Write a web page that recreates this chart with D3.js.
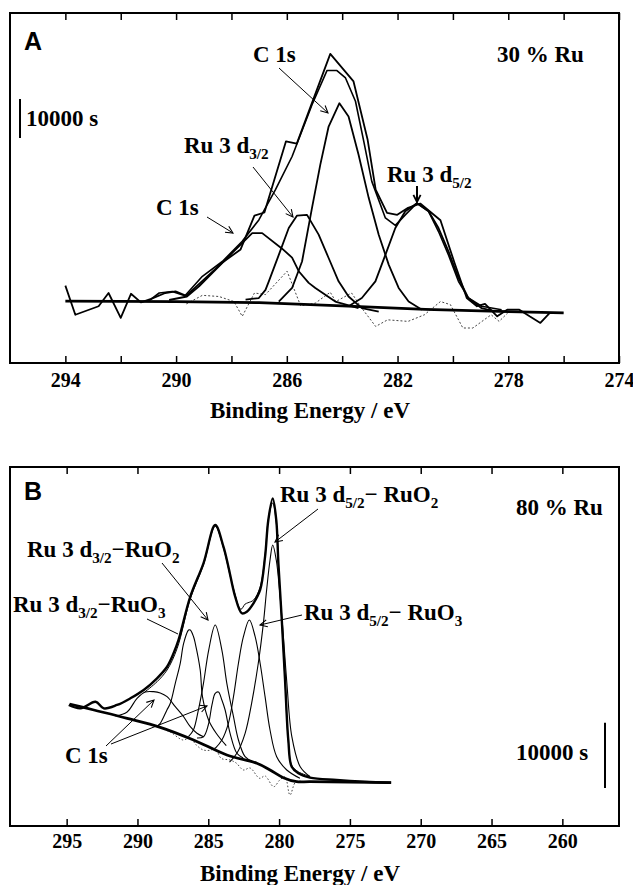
<!DOCTYPE html>
<html>
<head>
<meta charset="utf-8">
<script src="https://cdn.jsdelivr.net/npm/d3@7"></script>
<style>
  body { margin: 0; background: white; }
  text { font-family: "Liberation Serif", "Times New Roman", serif; font-weight: bold; fill: black; }
</style>
</head>
<body>
<div id="container"></div>
<script>
let w = 633;
let h = 885;

// ---------- DATA (binding energy in eV, intensity in counts) ----------

// panel A : 30 % Ru
let rawA = [[294.00,19900],[293.64,12400],[292.80,14600],[292.44,18000],[292.00,11600],[291.63,17800],[291.27,15600],[290.90,16500],[290.39,18000],[290.02,18400],[289.63,17300],[288.35,25700],[287.67,29200],[287.17,37900],[286.81,38700],[286.03,57000],[285.64,56400],[284.43,79500],[283.59,72400],[283.08,57400],[282.79,44600],[282.38,38600],[282.01,38100],[281.62,39900],[281.18,41000],[280.45,36700],[279.94,25700],[279.50,16700],[279.13,14600],[278.84,15200],[278.40,12000],[278.04,13700],[277.60,13700],[277.23,12000],[276.84,10300],[276.50,12900],[276.02,12900]];
let envA = [[291.00,15900],[290.61,18000],[290.14,18400],[289.68,17300],[289.05,22300],[288.33,26100],[287.61,31300],[287.01,36800],[286.41,44600],[285.81,53100],[285.09,66400],[284.55,75200],[284.19,75200],[283.88,73300],[283.52,67300],[283.22,57000],[282.93,46700],[282.44,37300],[282.08,35400],[281.72,38100],[281.30,41100],[280.88,39000],[280.52,33800],[280.16,27800],[279.80,21000],[279.44,16700],[278.96,14600],[278.24,13700]];
let c1sLowA = [[290.25,16200],[289.61,17100],[289.17,19700],[288.57,24000],[287.97,28300],[287.25,33400],[286.89,33400],[286.17,29400],[285.81,27100],[285.57,23600],[285.21,20600],[284.97,19300],[284.25,15800],[283.41,14100]];
let ru32A = [[287.49,16300],[287.01,16700],[286.77,18800],[286.65,21000],[286.29,27800],[285.93,34700],[285.63,37900],[285.27,38100],[284.85,33000],[284.49,27000],[284.13,21000],[283.77,17100],[283.29,14100],[282.68,13200]];
let c1sA = [[286.29,15800],[285.81,19300],[285.45,26100],[285.09,39900],[284.79,51000],[284.49,60800],[284.10,66800],[283.77,63400],[283.41,53600],[283.04,42400],[282.68,33000],[282.32,25300],[281.96,19300],[281.60,15800],[281.12,13700]];
let ru52A = [[283.77,14600],[283.29,16700],[282.80,21000],[282.44,27800],[282.08,34700],[281.72,39000],[281.30,41100],[280.88,39000],[280.52,34700],[280.16,28700],[279.80,21900],[279.44,16700],[278.96,14100],[278.48,13300]];
let resA = [[289.63,15200],[289.05,17400],[288.45,17100],[287.91,15800],[287.61,12000],[287.17,18000],[286.77,17600],[285.99,23600],[285.50,14700],[284.97,15400],[284.43,18200],[284.23,15800],[283.66,18000],[283.29,14100],[282.79,9400],[282.36,11100],[281.62,10700],[281.03,12400],[280.45,15800],[280.09,15000],[279.64,9000],[279.28,9000],[278.62,12400],[278.33,10700],[277.96,13300]];
let baseA = [[294,15900],[290,15800],[287,15500],[284,14700],[281,13800],[278,13200],[276,12900]];

// panel B : 80 % Ru
let envB = [[294.85,18540],[294.02,18030],[292.96,19040],[292.38,18030],[291.44,18540],[290.50,19560],[289.56,20840],[288.62,22630],[287.91,24400],[287.45,26460],[287.10,28500],[286.27,35130],[285.34,40250],[284.51,46110],[283.93,42790],[283.58,39720],[283.10,35130],[282.63,32590],[282.28,32830],[281.81,34120],[281.34,36160],[280.99,41260],[280.76,46880],[280.45,50200],[280.20,46880],[280.05,40250],[279.81,31560],[279.58,22370],[279.35,13180],[279.11,9080],[278.64,8070],[277.82,7400],[275.94,7050],[273.95,6790],[272.09,6630]];
let fitB = [[289.50,20500],[288.62,22100],[287.91,23900],[287.20,27200],[286.27,34800],[285.34,40000],[284.51,45900],[283.93,42600],[283.30,37000],[282.70,33200],[282.40,34000],[282.20,34200],[281.81,34600],[281.34,36600],[280.99,41500],[280.76,47000],[280.45,49500],[280.20,46500],[280.05,40000],[279.81,31300],[279.58,22100],[279.35,13000],[279.11,9300],[278.64,8300],[277.82,7600]];
let c1sBroadB = [[291.56,16850],[290.73,17470],[290.03,19560],[289.44,20530],[288.86,20580],[288.39,20380],[287.91,19810],[287.33,18280],[286.74,16740],[286.27,15210],[285.80,14200],[285.34,13680]];
let c1sNarrowB = [[285.80,13480],[285.34,13680],[285.00,15470],[284.74,18540],[284.51,20330],[284.28,20530],[284.04,19300],[283.81,17770],[283.46,14200],[282.98,11140],[282.54,10420]];
let ru32RuO3B = [[288.60,15300],[288.39,15730],[287.92,17770],[287.68,18800],[287.33,21860],[286.98,24920],[286.74,27990],[286.39,30030],[286.27,30030],[286.04,29000],[285.92,27990],[285.57,23900],[285.41,19810],[284.98,16240],[284.44,14200],[283.73,12300]];
let ru32RuO2B = [[286.40,13700],[286.05,14710],[285.70,17770],[285.34,21860],[284.97,26960],[284.51,30790],[284.04,26960],[283.69,21860],[283.22,16740],[282.87,13180],[282.40,10620],[281.90,9900]];
let ru52RuO3B = [[284.51,11900],[284.04,13180],[283.58,15730],[283.22,19810],[282.87,24930],[282.52,29000],[282.10,31560],[281.69,29000],[281.34,24930],[280.99,19810],[280.64,14710],[280.17,10620],[279.46,8580],[278.53,7310]];
let ru52RuO2B = [[283.50,9800],[282.98,11140],[282.40,14200],[281.94,18800],[281.47,24930],[281.11,31050],[280.88,36160],[280.64,40750],[280.45,43050],[280.20,40750],[279.97,36160],[279.73,30030],[279.45,21860],[279.10,13680],[278.51,9080],[277.81,7550]];
let resB = [[288.39,15010],[287.68,14400],[286.80,13180],[286.27,13480],[285.85,12410],[285.34,11640],[284.80,11640],[284.51,11950],[284.09,10370],[283.46,10110],[283.03,9650],[282.52,8580],[282.05,8890],[281.38,7310],[280.99,7660],[280.38,6020],[279.95,7050],[279.58,7510],[279.23,4750],[278.81,6790],[278.17,6740]];
let baseB = [[294.80,18690],[293.08,17770],[290.73,16500],[288.39,15120],[286.04,13180],[283.69,10880],[281.57,9610],[280.64,8580],[279.70,7400],[278.76,6790],[277.82,6790],[272.09,6630]];

// ticks
let ticksA = [294,292,290,288,286,284,282,280,278,276,274];
let labelsA = [294,290,286,282,278,274];
let ticksB = [295,290,285,280,275,270,265,260];
let scaleBarCounts = 10000;

// ---------- SVG ----------
let viz = d3.select("#container").append("svg")
    .attr("width", w)
    .attr("height", h)
    .style("background-color", "white");

let defs = viz.append("defs");
defs.append("marker")
    .attr("id", "head")
    .attr("markerUnits", "userSpaceOnUse")
    .attr("viewBox", "0 0 10 10")
    .attr("refX", 9).attr("refY", 5)
    .attr("markerWidth", 9).attr("markerHeight", 9)
    .attr("orient", "auto")
  .append("path")
    .attr("d", "M1,1 L9,5 L1,9")
    .attr("fill", "none")
    .attr("stroke", "black")
    .attr("stroke-width", 1.2);
defs.append("marker")
    .attr("id", "boldhead")
    .attr("markerUnits", "userSpaceOnUse")
    .attr("viewBox", "0 0 10 10")
    .attr("refX", 9).attr("refY", 5)
    .attr("markerWidth", 9).attr("markerHeight", 10)
    .attr("orient", "auto")
  .append("path")
    .attr("d", "M1,1 L9,5 L1,9")
    .attr("fill", "none")
    .attr("stroke", "black")
    .attr("stroke-width", 2);

// scales
let xA = d3.scaleLinear().domain([296, 274]).range([10, 619]);
let yA = d3.scaleLinear().domain([0, 90000]).range([363, 13]);
let xB = d3.scaleLinear().domain([299, 256]).range([10, 619]);
let yB = d3.scaleLinear().domain([0, 55000]).range([826, 467]);

function frame(x, y) {
  viz.append("rect")
    .attr("x", x.range()[0]).attr("y", y.range()[1])
    .attr("width", x.range()[1] - x.range()[0])
    .attr("height", y.range()[0] - y.range()[1])
    .attr("fill", "none")
    .attr("stroke", "black")
    .attr("stroke-width", 2);
}

function axes(x, y, ticks, labels, labelY) {
  let bottom = viz.append("g")
    .attr("transform", "translate(0," + y.range()[0] + ")")
    .call(d3.axisBottom(x).tickValues(ticks).tickSizeInner(-7).tickSizeOuter(0)
      .tickFormat(function(d){ return labels.indexOf(d) >= 0 ? d : ""; }));
  bottom.select(".domain").remove();
  bottom.selectAll("line").attr("stroke", "black").attr("stroke-width", 1.5);
  bottom.selectAll("text")
    .attr("y", labelY - y.range()[0]).attr("dy", null)
    .style("font-family", "Liberation Serif")
    .style("font-weight", "bold")
    .style("font-size", "20px")
    .attr("fill", "black");

  let top = viz.append("g")
    .attr("transform", "translate(0," + y.range()[1] + ")")
    .call(d3.axisTop(x).tickValues(ticks).tickSizeInner(-7).tickSizeOuter(0).tickFormat(""));
  top.select(".domain").remove();
  top.selectAll("line").attr("stroke", "black").attr("stroke-width", 1.5);
}

function curve(x, y, data, width, dash, color, smooth) {
  let lineMaker = d3.line()
    .x(function(d){ return x(d[0]); })
    .y(function(d){ return y(d[1]); });
  if (smooth) lineMaker.curve(d3.curveCatmullRom.alpha(0.5));
  viz.append("path")
    .datum(data)
    .attr("d", lineMaker)
    .attr("fill", "none")
    .attr("stroke", color || "black")
    .attr("stroke-width", width)
    .attr("stroke-dasharray", dash || null)
    .attr("stroke-linejoin", "round");
}

// label with subscripts: parts = [[text, isSub], ...]
function label(x, y, parts, size) {
  let t = viz.append("text").attr("x", x).attr("y", y).style("font-size", size + "px");
  let shifted = false;
  parts.forEach(function(p){
    let s = t.append("tspan").text(p[0]);
    if (p[1] && !shifted) { s.attr("dy", 6).style("font-size", (size * 0.66) + "px"); shifted = true; }
    else if (p[1]) { s.style("font-size", (size * 0.66) + "px"); }
    else if (shifted) { s.attr("dy", -6); shifted = false; }
  });
}

function arrow(p1, p2, head) {
  viz.append("line")
    .attr("x1", p1[0]).attr("y1", p1[1])
    .attr("x2", p2[0]).attr("y2", p2[1])
    .attr("stroke", "black")
    .attr("stroke-width", head == "bold" ? 2 : 1)
    .attr("marker-end", head == "bold" ? "url(#boldhead)" : (head ? "url(#head)" : null));
}

// ---------- PANEL A ----------
frame(xA, yA);
axes(xA, yA, ticksA, labelsA, 387);

curve(xA, yA, resA, 1, "2,2", "#444", false);
curve(xA, yA, baseA, 2.8, null, "black", false);
curve(xA, yA, c1sLowA, 1.8, null, "black", false);
curve(xA, yA, ru32A, 1.8, null, "black", false);
curve(xA, yA, c1sA, 1.8, null, "black", false);
curve(xA, yA, ru52A, 1.8, null, "black", false);
curve(xA, yA, envA, 1.6, null, "black", false);
curve(xA, yA, rawA, 1.8, null, "black", false);

viz.append("text").attr("x", 24).attr("y", 50)
  .style("font-family", "Liberation Sans").style("font-size", "25px").text("A");
label(497, 62, [["30 % Ru"]], 23);
label(253, 62, [["C 1s"]], 23);
label(156, 215, [["C 1s"]], 23);
label(184, 153, [["Ru 3 d"], ["3/2", true]], 23);
label(387, 182, [["Ru 3 d"], ["5/2", true]], 23);

arrow([279, 68], [328, 113], true);
arrow([253, 167], [293, 217], true);
arrow([207, 217], [233, 233], true);
arrow([417, 186], [417, 202], "bold");

// scale bar A
viz.append("line")
  .attr("x1", 20).attr("x2", 20)
  .attr("y1", 138).attr("y2", 138 - (yA(0) - yA(scaleBarCounts)))
  .attr("stroke", "black").attr("stroke-width", 2);
label(26, 126, [["10000 s"]], 23);

viz.append("text").attr("x", 310).attr("y", 418).attr("text-anchor", "middle")
  .style("font-size", "23px").text("Binding Energy / eV");

// ---------- PANEL B ----------
frame(xB, yB);
axes(xB, yB, ticksB, ticksB, 848);

curve(xB, yB, resB, 1, "1.5,2", "#444", true);
curve(xB, yB, baseB, 2.8, null, "black", true);
curve(xB, yB, c1sBroadB, 1.1, null, "black", true);
curve(xB, yB, c1sNarrowB, 1.1, null, "black", true);
curve(xB, yB, ru32RuO3B, 1.1, null, "black", true);
curve(xB, yB, ru32RuO2B, 1.1, null, "black", true);
curve(xB, yB, ru52RuO3B, 1.1, null, "black", true);
curve(xB, yB, ru52RuO2B, 1.1, null, "black", true);
curve(xB, yB, fitB, 1, null, "black", true);
curve(xB, yB, envB, 2.4, null, "black", true);

viz.append("text").attr("x", 24).attr("y", 500)
  .style("font-family", "Liberation Sans").style("font-size", "25px").text("B");
label(516, 515, [["80 % Ru"]], 23);
label(280, 502, [["Ru 3 d"], ["5/2", true], ["\u2212 RuO"], ["2", true]], 23);
label(27, 557, [["Ru 3 d"], ["3/2", true], ["\u2212RuO"], ["2", true]], 23);
label(13, 612, [["Ru 3 d"], ["3/2", true], ["\u2212RuO"], ["3", true]], 23);
label(304, 620, [["Ru 3 d"], ["5/2", true], ["\u2212 RuO"], ["3", true]], 23);
label(65, 763, [["C 1s"]], 23);

arrow([318, 509], [275, 542], true);
arrow([162, 563], [208, 620], true);
arrow([147, 619], [178, 634], false);
arrow([302, 615], [260, 625], true);
arrow([106, 746], [154, 700], true);
arrow([111, 744], [207, 706], true);

// scale bar B
viz.append("line")
  .attr("x1", 605).attr("x2", 605)
  .attr("y1", 788).attr("y2", 788 - (yB(0) - yB(scaleBarCounts)))
  .attr("stroke", "black").attr("stroke-width", 2);
label(516, 760, [["10000 s"]], 23);

viz.append("text").attr("x", 300).attr("y", 881).attr("text-anchor", "middle")
  .style("font-size", "23px").text("Binding Energy / eV");
</script>
</body>
</html>
